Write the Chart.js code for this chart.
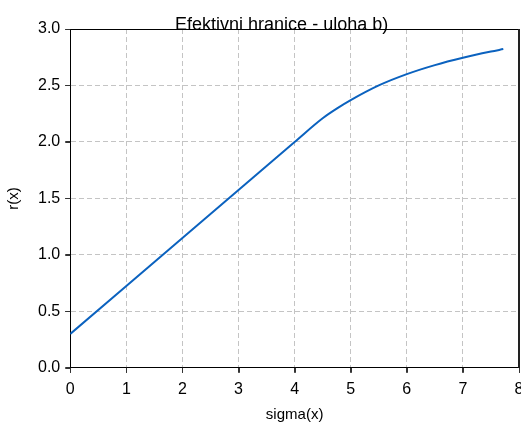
<!DOCTYPE html>
<html>
<head>
<meta charset="utf-8">
<script src="https://cdn.jsdelivr.net/npm/chart.js@4"></script>
<style>
  html, body { margin: 0; padding: 0; background: #fff; }
  #wrap { width: 521px; height: 425px; }
</style>
</head>
<body>
<div id="wrap"><canvas id="frontier"></canvas></div>
<script>
// Efficient frontier
const sigma = [0, 1, 2, 3, 4, 4.5, 4.75, 5, 5.5, 6, 6.5, 7, 7.5, 7.72];
const ret = [0.30, 0.725, 1.15, 1.575, 2.0, 2.21, 2.295, 2.37, 2.50, 2.60, 2.68, 2.745, 2.80, 2.822];
const xTicks = [0, 1, 2, 3, 4, 5, 6, 7, 8];
const yTicks = [0, 0.5, 1, 1.5, 2, 2.5, 3];

const font = 'Liberation Sans, Arial, sans-serif';

// box around the plot, outward tick marks, title sitting on the top border
const framePlugin = {
    id: 'frame',
    afterDraw(chart) {
        const { ctx, chartArea: a, scales } = chart;
        ctx.save();
        ctx.strokeStyle = '#000';
        ctx.lineWidth = 1;
        ctx.beginPath();
        ctx.moveTo(a.left, a.top + 0.5);
        ctx.lineTo(a.right, a.top + 0.5);
        ctx.stroke();

        ctx.strokeStyle = '#333';
        ctx.beginPath();
        xTicks.forEach(v => {
            const px = Math.round(scales.x.getPixelForValue(v)) + 0.5;
            ctx.moveTo(px, a.bottom);
            ctx.lineTo(px, a.bottom + 5);
        });
        yTicks.forEach(v => {
            const py = Math.round(scales.y.getPixelForValue(v)) + 0.5;
            ctx.moveTo(a.left, py);
            ctx.lineTo(a.left - 5, py);
        });
        ctx.stroke();

        ctx.lineWidth = 2;
        ctx.strokeStyle = '#222';
        ctx.beginPath();
        ctx.moveTo(a.right, a.top);
        ctx.lineTo(a.right, a.bottom);
        ctx.stroke();

        ctx.fillStyle = '#000';
        ctx.font = '18px ' + font;
        ctx.textAlign = 'center';
        ctx.textBaseline = 'alphabetic';
        ctx.fillText('Efektivni hranice - uloha b)', (a.left + a.right) / 2 - 13, a.top + 0.5);
        ctx.restore();
    }
};

const gridOpts = {
    color: '#c4c4c4',
    drawTicks: true,
    tickColor: '#333',
    tickLength: 5,
    tickWidth: 1,
    tickBorderDash: []
};

const ctx = document.getElementById('frontier').getContext('2d');
new Chart(ctx, {
    type: 'line',
    data: {
        datasets: [{
            label: 'r(x)',
            data: sigma.map((s, i) => ({ x: s, y: ret[i] })),
            borderColor: '#0b62bf',
            borderWidth: 2,
            pointRadius: 0,
            fill: false,
            cubicInterpolationMode: 'monotone'
        }]
    },
    options: {
        responsive: true,
        maintainAspectRatio: false,
        animation: false,
        layout: { padding: { top: 29, right: 2, bottom: 1, left: 5 } },
        plugins: {
            legend: { display: false },
            title: { display: false },
            tooltip: { enabled: false }
        },
        scales: {
            x: {
                type: 'linear',
                min: 0,
                max: 8,
                afterBuildTicks: axis => { axis.ticks = xTicks.map(v => ({ value: v })); },
                afterFit: axis => { axis.paddingRight = 0; },
                ticks: { color: '#000', font: { family: font, size: 16 }, padding: 7 },
                grid: gridOpts,
                border: { display: true, color: '#000', width: 1, dash: [5, 3] },
                title: { display: true, text: 'sigma(x)', color: '#000', font: { family: font, size: 15 }, padding: { top: 0, bottom: 0 } }
            },
            y: {
                min: 0,
                max: 3,
                afterBuildTicks: axis => { axis.ticks = yTicks.map(v => ({ value: v })); },
                ticks: {
                    color: '#000',
                    font: { family: font, size: 16 },
                    padding: 5,
                    callback: v => v.toFixed(1)
                },
                grid: gridOpts,
                border: { display: true, color: '#000', width: 1, dash: [5, 3] },
                title: { display: true, text: 'r(x)', color: '#000', font: { family: font, size: 15 }, padding: { top: 0, bottom: 10 } }
            }
        }
    },
    plugins: [framePlugin]
});
</script>
</body>
</html>
